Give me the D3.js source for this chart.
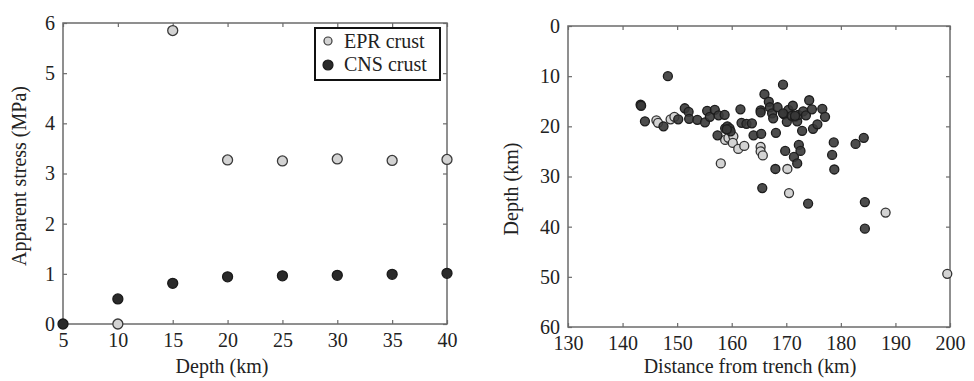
<!DOCTYPE html>
<html lang="en">
<head>
<meta charset="UTF-8"/>
<title>Apparent stress and depth</title>
<script src="https://d3js.org/d3.v7.min.js"></script>
<style>
    body { margin: 0; background: #fff; }
    svg text { font-family: "Liberation Serif", "Times New Roman", serif; fill: #222; }
</style>
</head>
<body>
<script>
    // left panel: apparent stress vs depth
    var depthKm = [5, 10, 15, 20, 25, 30, 35, 40];
    var eprDepth = [10, 15, 20, 25, 30, 35, 40];
    var eprStress = [0, 5.85, 3.27, 3.25, 3.29, 3.26, 3.28];
    var cnsStress = [0, 0.50, 0.81, 0.94, 0.96, 0.97, 0.99, 1.01];
    var stressTicks = [0, 1, 2, 3, 4, 5, 6];

    // right panel: events, distance from trench vs depth
    var cnsDist = [143.3, 143.4, 144.1, 148.3, 147.5, 150.2, 151.4, 152.1, 152.2, 153.7, 155.1, 155.5, 156.0, 156.9, 157.6, 158.7,
                   157.4, 158.8, 159.2, 159.6, 159.8, 159.1, 161.6, 161.8, 162.7, 163.7, 164.0, 165.4, 165.3, 165.3, 166.0, 165.6,
                   166.8, 167.0, 167.4, 167.6, 168.4, 168.1, 168.0, 169.4, 169.6, 169.8, 170.1, 170.4, 171.2, 171.0, 171.6, 172.0,
                   172.2, 171.4, 172.0, 172.3, 172.6, 172.9, 173.1, 173.6, 174.2, 174.7, 174.9, 175.7, 174.0, 176.6, 177.1, 178.4,
                   178.7, 178.8, 182.7, 184.2, 184.4, 184.4, 171.6, 169.4];
    var cnsDepth = [15.7, 15.9, 19.0, 10.0, 20.0, 18.6, 16.4, 17.1, 18.5, 18.7, 19.2, 16.9, 18.1, 16.7, 17.8, 17.7,
                    21.8, 20.4, 20.0, 20.4, 21.0, 20.6, 16.6, 19.3, 19.5, 19.4, 21.8, 21.5, 16.8, 17.2, 13.6, 32.3,
                    15.1, 16.2, 17.4, 18.4, 16.2, 21.3, 28.5, 11.7, 17.6, 24.9, 19.1, 16.7, 15.9, 17.9, 18.1, 19.0,
                    17.7, 26.1, 27.4, 23.7, 24.9, 20.9, 17.0, 17.8, 14.8, 16.6, 20.5, 19.6, 35.4, 16.5, 18.1, 25.7,
                    23.2, 28.6, 23.5, 22.3, 35.1, 40.4, 17.9, 17.4];
    var eprDist = [146.2, 146.5, 148.8, 149.5, 158.0, 158.8, 159.4, 160.3, 160.2, 161.2, 162.3, 165.3, 165.3, 165.7,
                   170.2, 170.5, 188.2, 199.5];
    var eprDepthEv = [18.8, 19.3, 18.6, 18.1, 27.4, 22.7, 22.3, 22.0, 23.3, 24.5, 23.9, 24.1, 25.0, 25.8,
                      28.5, 33.3, 37.2, 49.4];
    var distTicks = [130, 140, 150, 160, 170, 180, 190, 200];
    var depthTicks = [0, 10, 20, 30, 40, 50, 60];

    var W = 974, H = 381;
    var serif = "'Liberation Serif', 'Times New Roman', serif";
    var axisColor = "#6b6b6b";
    var lightFill = "#d3d3d3", darkFill = "#383838";

    var svg = d3.select("body").append("svg")
        .attr("width", W)
        .attr("height", H);

    // draws a MATLAB style box with inward ticks on all four sides
    function drawBox(g, x, y, xTicks, yTicks) {
        var x0 = x.range()[0], x1 = x.range()[1];
        var y0 = d3.min(y.range()), y1 = d3.max(y.range());
        g.append("rect")
            .attr("x", x0).attr("y", y0)
            .attr("width", x1 - x0).attr("height", y1 - y0)
            .attr("fill", "none").attr("stroke", axisColor).attr("stroke-width", 1.5);

        var bottom = g.append("g").attr("transform", "translate(0," + y1 + ")")
            .call(d3.axisBottom(x).tickValues(xTicks).tickSize(-4).tickPadding(8).tickFormat(d3.format("d")));
        var top = g.append("g").attr("transform", "translate(0," + y0 + ")")
            .call(d3.axisTop(x).tickValues(xTicks).tickSize(-4).tickFormat(""));
        var left = g.append("g").attr("transform", "translate(" + x0 + ",0)")
            .call(d3.axisLeft(y).tickValues(yTicks).tickSize(-4).tickPadding(8).tickFormat(d3.format("d")));
        var right = g.append("g").attr("transform", "translate(" + x1 + ",0)")
            .call(d3.axisRight(y).tickValues(yTicks).tickSize(-4).tickFormat(""));

        [bottom, top, left, right].forEach(function(a) {
            a.attr("font-family", null).attr("font-size", null);
            a.select(".domain").remove();
            a.selectAll("line").attr("stroke", axisColor).attr("stroke-width", 1.2);
            a.selectAll("text")
                .style("font-family", serif)
                .style("font-size", "20px")
                .style("fill", "#222");
        });
        bottom.selectAll("text").attr("dy", "0.75em");
    }

    // ---- left panel ----
    var xL = d3.scaleLinear().domain([5, 40]).range([63, 447]);
    var yL = d3.scaleLinear().domain([0, 6]).range([324, 23]);
    var gL = svg.append("g");
    drawBox(gL, xL, yL, depthKm, stressTicks);

    gL.selectAll("circle.epr")
        .data(eprDepth)
        .enter().append("circle")
        .attr("class", "epr")
        .attr("cx", function(d) { return xL(d); })
        .attr("cy", function(d, i) { return yL(eprStress[i]); })
        .attr("r", 5)
        .attr("fill", lightFill).attr("stroke", "#3a3a3a").attr("stroke-width", 1.3);

    gL.selectAll("circle.cns")
        .data(depthKm)
        .enter().append("circle")
        .attr("class", "cns")
        .attr("cx", function(d) { return xL(d); })
        .attr("cy", function(d, i) { return yL(cnsStress[i]); })
        .attr("r", 5)
        .attr("fill", "#2a2a2a").attr("stroke", "#1a1a1a").attr("stroke-width", 1.3);

    gL.append("text")
        .attr("x", 222).attr("y", 373)
        .attr("text-anchor", "middle").attr("font-size", 20)
        .text("Depth (km)");
    gL.append("text")
        .attr("transform", "translate(26,176) rotate(-90)")
        .attr("text-anchor", "middle").attr("font-size", 20)
        .text("Apparent stress (MPa)");

    // legend
    var leg = gL.append("g");
    leg.append("rect")
        .attr("x", 315).attr("y", 28).attr("width", 125).attr("height", 52)
        .attr("fill", "#fff").attr("stroke", "#111").attr("stroke-width", 2);
    var legItems = [["EPR crust", lightFill, "#3a3a3a", 4], ["CNS crust", "#2a2a2a", "#1a1a1a", 5]];
    legItems.forEach(function(it, i) {
        leg.append("circle")
            .attr("cx", 328).attr("cy", 41 + i * 24).attr("r", it[3])
            .attr("fill", it[1]).attr("stroke", it[2]).attr("stroke-width", 1.2);
        leg.append("text")
            .attr("x", 344).attr("y", 48 + i * 23)
            .attr("font-size", 20)
            .text(it[0]);
    });

    // ---- right panel ----
    var xR = d3.scaleLinear().domain([130, 200]).range([568, 950]);
    var yR = d3.scaleLinear().domain([0, 60]).range([26, 327]);
    var gR = svg.append("g");
    drawBox(gR, xR, yR, distTicks, depthTicks);

    gR.selectAll("circle.ev-epr")
        .data(eprDist)
        .enter().append("circle")
        .attr("class", "ev-epr")
        .attr("cx", function(d) { return xR(d); })
        .attr("cy", function(d, i) { return yR(eprDepthEv[i]); })
        .attr("r", 4.5)
        .attr("fill", lightFill).attr("stroke", "#333").attr("stroke-width", 1.3);

    gR.selectAll("circle.ev-cns")
        .data(cnsDist)
        .enter().append("circle")
        .attr("class", "ev-cns")
        .attr("cx", function(d) { return xR(d); })
        .attr("cy", function(d, i) { return yR(cnsDepth[i]); })
        .attr("r", 4.5)
        .attr("fill", darkFill).attr("fill-opacity", 0.9)
        .attr("stroke", "#1c1c1c").attr("stroke-width", 1.3);

    gR.append("text")
        .attr("x", 750).attr("y", 373)
        .attr("text-anchor", "middle").attr("font-size", 20)
        .text("Distance from trench (km)");
    gR.append("text")
        .attr("transform", "translate(518,189) rotate(-90)")
        .attr("text-anchor", "middle").attr("font-size", 20)
        .text("Depth (km)");
</script>
</body>
</html>
